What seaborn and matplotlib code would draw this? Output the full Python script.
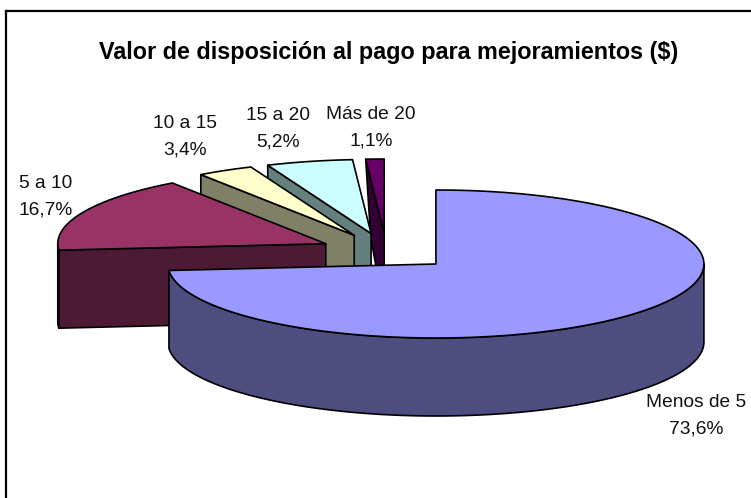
import matplotlib
matplotlib.use("Agg")
import matplotlib.pyplot as plt
import seaborn as sns
import numpy as np

categories = ["Menos de 5", "5 a 10", "10 a 15", "15 a 20", "Más de 20"]
shares = [73.6, 16.7, 3.4, 5.2, 1.1]
top_colors = ["#9999FF", "#993366", "#FFFFCC", "#CCFFFF", "#660066"]

# label centres, in pixels of the picture
label_x = [696, 46, 185, 278, 371]
label_y = [415.5, 197, 137, 128.5, 127.5]

W, H = 751, 498
CX, CY = 386.5, 251.5   # pie centre before exploding
RX, RY = 268, 74
DEPTH = 78
EXPLODE = 0.25
LEAN = 5   # the thinnest wall leans inwards in the original drawing
EDGE = dict(edgecolor="black", linewidth=1.2, joinstyle="round")

sns.set_theme(style="white")
plt.rcParams["font.family"] = ["Liberation Sans", "DejaVu Sans"]
palette = sns.color_palette(top_colors)
shades = [tuple(c * 0.5 for c in col) for col in palette]


def ellipse(cx, cy, a):
    # a = degrees clockwise from 12 o'clock
    r = np.radians(a)
    return cx + RX * np.sin(r), cy - RY * np.cos(r)


fig = plt.figure(figsize=(W / 100, H / 100), dpi=100)
ax = fig.add_axes([6 / W, 0, (W - 6) / W, (H - 11) / H])
ax.set_xlim(6, W)
ax.set_ylim(H, 11)
ax.set_xticks([])
ax.set_yticks([])
sns.despine(ax=ax, top=False, left=False, right=True, bottom=True)
for s in ["left", "top"]:
    ax.spines[s].set_linewidth(1.6)
    ax.spines[s].set_color("black")

edges = np.cumsum([0] + shares) * 3.6
slices = []
for i in range(len(shares)):
    a0, a1 = edges[i], edges[i + 1]
    mid = np.radians((a0 + a1) / 2)
    ox = CX + EXPLODE * RX * np.sin(mid)
    oy = CY - EXPLODE * RY * np.cos(mid)
    slices.append((i, a0, a1, ox, oy))

# back to front: the big slice goes last
for i, a0, a1, ox, oy in sorted(slices, key=lambda s: -s[0]):
    z = 7 - i
    # outer wall, only the part facing the viewer
    lo, hi = max(a0, 90), min(a1, 270)
    if hi > lo:
        t = np.linspace(lo, hi, 120)
        x, y = ellipse(ox, oy, t)
        ax.fill(np.r_[x, x[::-1]], np.r_[y, y[::-1] + DEPTH],
                facecolor=shades[i], zorder=z, **EDGE)
    # cut wall on the radius that faces us
    if i > 0:
        ex, ey = ellipse(ox, oy, a0)
        lean = LEAN if i == len(shares) - 1 else 0
        ax.fill([ox, ex, ex + lean, ox], [oy, ey, ey + DEPTH, oy + DEPTH],
                facecolor=shades[i], zorder=z, **EDGE)
    t = np.linspace(a0, a1, 200)
    x, y = ellipse(ox, oy, t)
    ax.fill(np.r_[ox, x], np.r_[oy, y], facecolor=palette[i], zorder=z + 0.5, **EDGE)

ax.text(389, 52, "Valor de disposición al pago para mejoramientos ($)",
        ha="center", va="center", fontsize=16.8, fontweight="bold", color="black")

for name, val, lx, ly in zip(categories, shares, label_x, label_y):
    ax.text(lx, ly, f"{name}\n{val:.1f}%".replace(".", ","), ha="center", va="center",
            fontsize=13.8, color="#111111", linespacing=1.72, zorder=20)

fig.savefig("out.png", dpi=100)
